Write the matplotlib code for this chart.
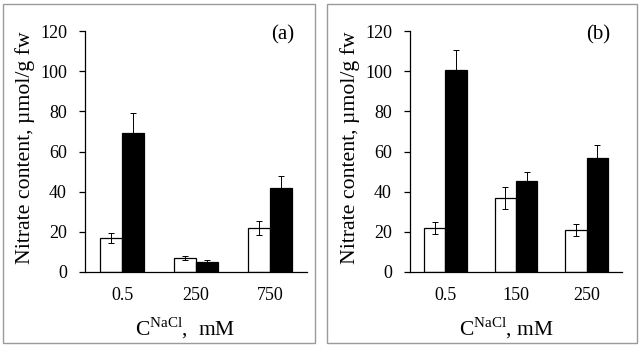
import numpy as np
import matplotlib
matplotlib.use("Agg")
import matplotlib.pyplot as plt
from matplotlib.patches import Rectangle

plt.rcParams["font.family"] = ["Liberation Serif", "DejaVu Serif"]
plt.rcParams["mathtext.fontset"] = "custom"
plt.rcParams["mathtext.rm"] = "Liberation Serif"

# panel (a)
cats_a = ["0.5", "250", "750"]
white_a = [17, 7, 22]
white_err_a = [2.5, 1.0, 3.5]
black_a = [69, 5, 42]
black_err_a = [10, 1.0, 6]

# panel (b)
cats_b = ["0.5", "150", "250"]
white_b = [22, 37, 21]
white_err_b = [3, 5.5, 3]
black_b = [100.5, 45.5, 57]
black_err_b = [10, 4.5, 6]

yticks = [0, 20, 40, 60, 80, 100, 120]

W, H = 640, 345
fig = plt.figure(figsize=(W / 100, H / 100), dpi=100)

# panel frames
for x0, x1 in [(3, 315), (327, 637)]:
    fig.patches.append(Rectangle((x0 / W, 2 / H), (x1 - x0) / W, 339 / H,
                                 transform=fig.transFigure, fill=False,
                                 edgecolor="#9a9a9a", linewidth=1.0))


def draw_panel(ax_rect, cats, wv, we, bv, be, tag, xlab, xlab_x, ylab_x):
    ax = fig.add_axes(ax_rect)
    x = np.arange(len(cats)) + 0.5
    bw = 0.3
    ekw = dict(ecolor="black", elinewidth=0.7, capsize=2.5, capthick=0.7)
    ax.bar(x - bw / 2, wv, bw, color="white", edgecolor="black", linewidth=0.9,
           yerr=we, error_kw=ekw)
    ax.bar(x + bw / 2, bv, bw, color="black", edgecolor="black", linewidth=0.9,
           yerr=be, error_kw=ekw)
    ax.set_xlim(0, len(cats))
    ax.set_ylim(0, 120)
    ax.set_yticks(yticks)
    ax.set_xticks(x)
    ax.set_xticklabels(cats)
    ax.tick_params(axis="x", length=0, pad=11, labelsize=13)
    ax.tick_params(axis="y", length=4, width=0.9, pad=9, labelsize=13)
    for s in ["top", "right"]:
        ax.spines[s].set_visible(False)
    for s in ["left", "bottom"]:
        ax.spines[s].set_linewidth(0.9)
    ax.text(0.89, 0.985, tag, transform=ax.transAxes, ha="center", va="center", fontsize=15)
    fig.text(xlab_x / W, 1 - 328 / H, xlab, ha="center", va="center", fontsize=15.5)
    fig.text(ylab_x / W, 1 - 148 / H, "Nitrate content, µmol/g fw", rotation=90,
             ha="center", va="center", fontsize=15.7)
    return ax


draw_panel([85 / W, 73 / H, 222 / W, 241 / H], cats_a, white_a, white_err_a,
           black_a, black_err_a, "(a)", r"C$^{\mathrm{NaCl}}$,  mM", 185, 25)
draw_panel([410 / W, 73 / H, 212 / W, 241 / H], cats_b, white_b, white_err_b,
           black_b, black_err_b, "(b)", r"C$^{\mathrm{NaCl}}$, mM", 506, 350)

fig.savefig("out.png", dpi=100)
